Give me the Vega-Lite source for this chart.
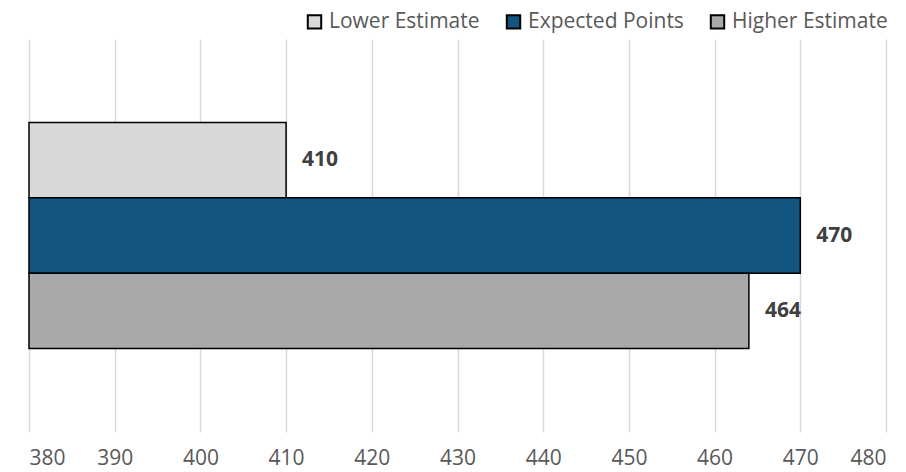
{
  "$schema": "https://vega.github.io/schema/vega-lite/v6.json",
  "width": 857,
  "height": 393,
  "autosize": {"type": "none"},
  "padding": {"left": 29, "top": 39, "right": 20, "bottom": 40},
  "background": "white",
  "config": {"view": {"stroke": null}, "font": "Open Sans"},
  "data": {
    "values": [
      {"series": "Lower Estimate", "points": 410},
      {"series": "Expected Points", "points": 470},
      {"series": "Higher Estimate", "points": 464}
    ]
  },
  "encoding": {
    "y": {
      "field": "series",
      "type": "nominal",
      "scale": {
        "domain": ["_top", "Lower Estimate", "Expected Points", "Higher Estimate", "_bottom"],
        "paddingInner": 0,
        "paddingOuter": 0.109
      },
      "axis": null
    },
    "x": {
      "field": "points",
      "type": "quantitative",
      "scale": {"domain": [380, 480], "zero": false, "nice": false},
      "axis": {
        "values": [380, 390, 400, 410, 420, 430, 440, 450, 460, 470, 480],
        "title": null,
        "domain": false,
        "ticks": false,
        "grid": true,
        "gridColor": "#d9d9d9",
        "gridWidth": 1.5,
        "labelFont": "Open Sans",
        "labelFontSize": 21,
        "labelColor": "#595959",
        "labelPadding": 15
      }
    }
  },
  "layer": [
    {
      "mark": {"type": "bar", "stroke": "black", "strokeWidth": 1.5},
      "encoding": {
        "x2": {"datum": 380},
        "color": {
          "field": "series",
          "type": "nominal",
          "scale": {
            "domain": ["Lower Estimate", "Expected Points", "Higher Estimate"],
            "range": ["#d9d9d9", "#13557e", "#a9a9a9"]
          },
          "legend": {
            "title": null,
            "orient": "none",
            "direction": "horizontal",
            "legendX": 275,
            "legendY": -28,
            "symbolType": "square",
            "symbolSize": 180,
            "symbolStrokeColor": "black",
            "symbolStrokeWidth": 2,
            "symbolOpacity": 1,
            "labelFont": "Open Sans",
            "labelFontSize": 21,
            "labelColor": "#595959",
            "labelOffset": 4,
            "columnPadding": 22
          }
        }
      }
    },
    {
      "mark": {
        "type": "text",
        "align": "left",
        "baseline": "middle",
        "dx": 16,
        "font": "Open Sans",
        "fontSize": 21,
        "fontWeight": "bold",
        "color": "#404040"
      },
      "encoding": {"text": {"field": "points", "type": "quantitative"}}
    }
  ]
}
